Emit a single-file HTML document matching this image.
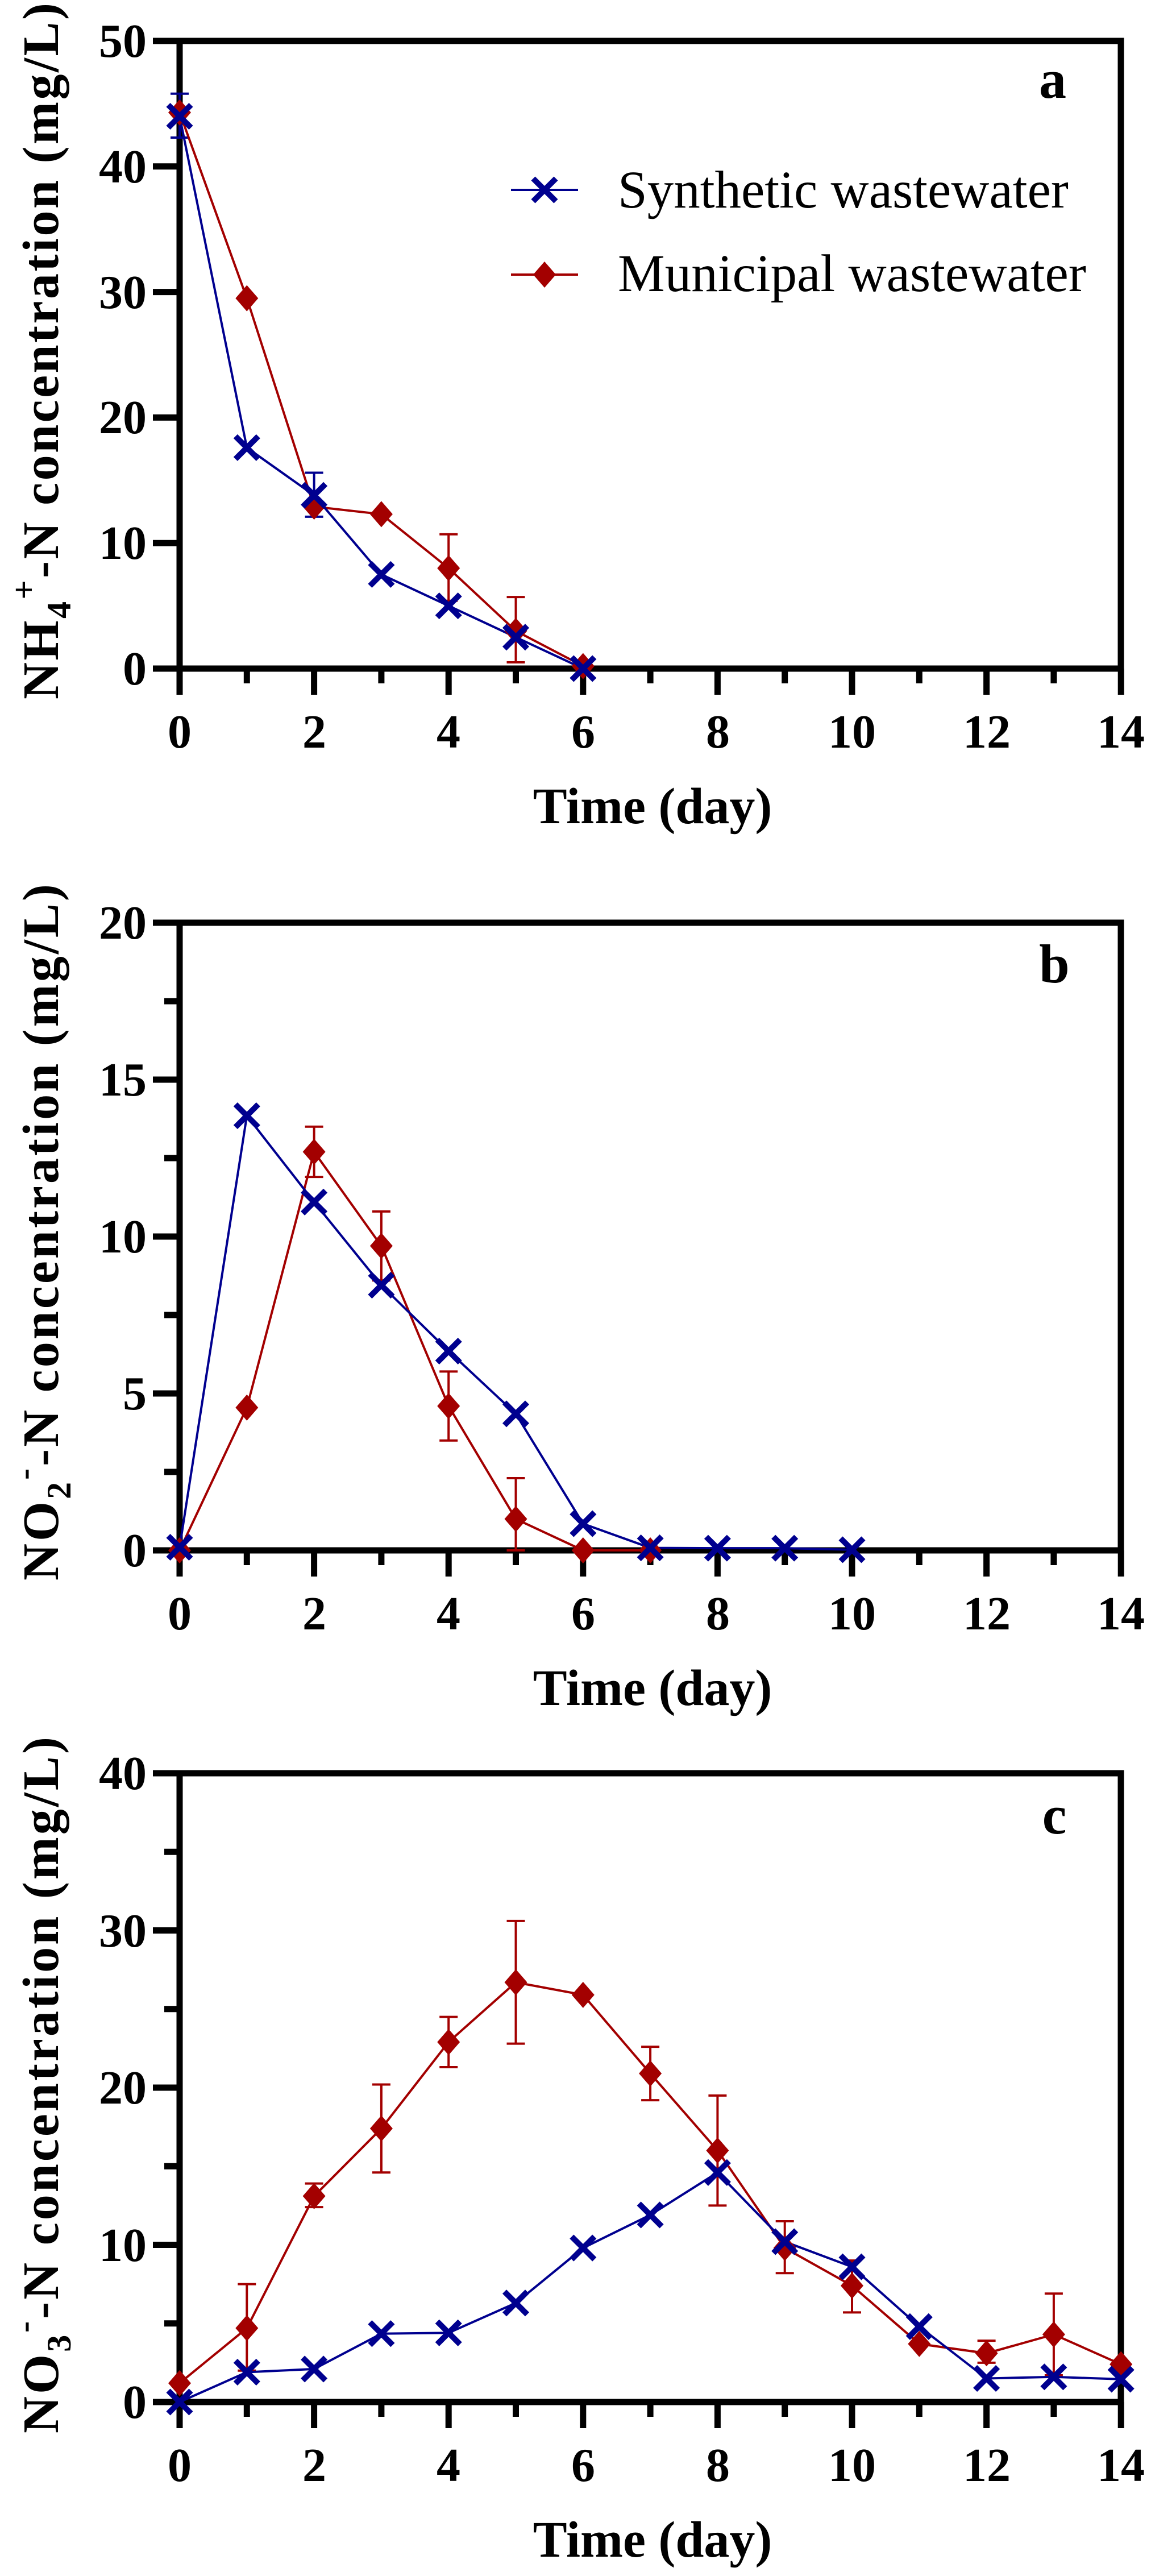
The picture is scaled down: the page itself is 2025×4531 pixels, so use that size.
<!DOCTYPE html>
<html><head><meta charset="utf-8"><style>
html,body{margin:0;padding:0;background:#fff}
svg{display:block}
svg text{font-family:"Liberation Serif","Times New Roman",serif}
</style></head><body>
<svg id="s" width="2025" height="4531" viewBox="0 0 2025 4531" xmlns="http://www.w3.org/2000/svg" font-family="Liberation Serif, Times New Roman, serif">
<g font-weight="bold" font-size="84" text-anchor="end">
<text x="258" y="100">50</text><text x="258" y="321">40</text><text x="258" y="542">30</text><text x="258" y="762">20</text><text x="258" y="983">10</text><text x="258" y="1204">0</text>
<text x="258" y="1651">20</text><text x="258" y="1927">15</text><text x="258" y="2203">10</text><text x="258" y="2479">5</text><text x="258" y="2755">0</text>
<text x="258" y="3147">40</text><text x="258" y="3424">30</text><text x="258" y="3700">20</text><text x="258" y="3977">10</text><text x="258" y="4253">0</text>
</g>
<g font-weight="bold" font-size="84" text-anchor="middle">
<text x="316" y="1315">0</text><text x="553" y="1315">2</text><text x="789" y="1315">4</text><text x="1026" y="1315">6</text><text x="1263" y="1315">8</text><text x="1499" y="1315">10</text><text x="1736" y="1315">12</text><text x="1972" y="1315">14</text>
<text x="316" y="2866">0</text><text x="553" y="2866">2</text><text x="789" y="2866">4</text><text x="1026" y="2866">6</text><text x="1263" y="2866">8</text><text x="1499" y="2866">10</text><text x="1736" y="2866">12</text><text x="1972" y="2866">14</text>
<text x="316" y="4364">0</text><text x="553" y="4364">2</text><text x="789" y="4364">4</text><text x="1026" y="4364">6</text><text x="1263" y="4364">8</text><text x="1499" y="4364">10</text><text x="1736" y="4364">12</text><text x="1972" y="4364">14</text>
<text x="1148" y="1448" font-size="90">Time (day)</text>
<text x="1148" y="2999" font-size="90">Time (day)</text>
<text x="1148" y="4497" font-size="90">Time (day)</text>
</g>
<g font-weight="bold" font-size="90">
<text transform="translate(102,1230) rotate(-90)" textLength="1225" lengthAdjust="spacing">NH<tspan font-size="60" dy="22">4</tspan><tspan font-size="60" dy="-62">+</tspan><tspan dy="40">-N concentration (mg/L)</tspan></text>
<text transform="translate(102,2780) rotate(-90)" textLength="1225" lengthAdjust="spacing">NO<tspan font-size="60" dy="22">2</tspan><tspan font-size="60" dy="-62">-</tspan><tspan dy="40">-N concentration (mg/L)</tspan></text>
<text transform="translate(102,4280) rotate(-90)" textLength="1225" lengthAdjust="spacing">NO<tspan font-size="60" dy="22">3</tspan><tspan font-size="60" dy="-62">-</tspan><tspan dy="40">-N concentration (mg/L)</tspan></text>
</g>
<g font-weight="bold" font-size="96" text-anchor="middle">
<text x="1852" y="172">a</text><text x="1855" y="1728">b</text><text x="1855" y="3225">c</text>
</g>
<g font-size="93">
<text x="1087" y="365">Synthetic wastewater</text>
<text x="1087" y="512">Municipal wastewater</text>
</g>
<g id="plots"></g>
</svg>
<script>
var NS="http://www.w3.org/2000/svg",P=document.getElementById('plots');
var BLUE="#00008f",RED="#a30000";
function el(t,a){var e=document.createElementNS(NS,t);for(var k in a)e.setAttribute(k,a[k]);P.appendChild(e);return e;}
function line(x1,y1,x2,y2,c,w){el('line',{x1:x1,y1:y1,x2:x2,y2:y2,stroke:c,'stroke-width':w});}
function cross(x,y){var r=20;line(x-r,y-r,x+r,y+r,BLUE,10);line(x-r,y+r,x+r,y-r,BLUE,10);}
function diamond(x,y){el('polygon',{points:(x)+','+(y-23)+' '+(x+20)+','+y+' '+(x)+','+(y+23)+' '+(x-20)+','+y,fill:RED});}
var X0=316,DX=118.3,L=316,R=1972;
function panel(top,bot,ymax,maj,minr,syn,mun,err){
 var sy=function(v){return bot-(v/ymax)*(bot-top);},sx=function(d){return X0+d*DX;};
 el('rect',{x:L,y:top,width:R-L,height:bot-top,fill:'none',stroke:'#000','stroke-width':11});
 for(var d=0;d<=14;d++){line(sx(d),bot,sx(d),bot+(d%2==0?46:26),'#000',11);}
 for(var v=0;v<=ymax+1e-9;v+=(minr||maj)){var isM=Math.abs(v/maj-Math.round(v/maj))<1e-6;line(L,sy(v),L-(isM?47:27),sy(v),'#000',11);}
 err.forEach(function(e){var c=e[3],x=sx(e[0]);line(x,sy(e[1]),x,sy(e[2]),c,4);line(x-16,sy(e[1]),x+16,sy(e[1]),c,4);line(x-16,sy(e[2]),x+16,sy(e[2]),c,4);});
 var pm=mun.map(function(p){return sx(p[0])+','+sy(p[1]);}).join(' ');
 el('polyline',{points:pm,fill:'none',stroke:RED,'stroke-width':4});
 var ps=syn.map(function(p){return sx(p[0])+','+sy(p[1]);}).join(' ');
 el('polyline',{points:ps,fill:'none',stroke:BLUE,'stroke-width':4});
 mun.forEach(function(p){diamond(sx(p[0]),sy(p[1]));});
 syn.forEach(function(p){cross(sx(p[0]),sy(p[1]));});
}
panel(72,1176,50,10,0,
 [[0,44],[1,17.6],[2,13.8],[3,7.5],[4,5],[5,2.5],[6,0]],
 [[0,44.3],[1,29.5],[2,12.9],[3,12.3],[4,8],[5,3],[6,0.2]],
 [[0,42.3,45.8,BLUE],[2,12.1,15.6,BLUE],[4,5.4,10.7,RED],[5,0.5,5.7,RED]]);
panel(1623,2727,20,5,2.5,
 [[0,0.1],[1,13.85],[2,11.1],[3,8.45],[4,6.35],[5,4.35],[6,0.85],[7,0.08],[8,0.07],[9,0.07],[10,0.02]],
 [[0,0],[1,4.55],[2,12.7],[3,9.7],[4,4.6],[5,1],[6,0],[7,0]],
 [[2,11.9,13.5,RED],[3,8.6,10.8,RED],[4,3.5,5.7,RED],[5,0,2.3,RED]]);
panel(3119,4225,40,10,5,
 [[0,0],[1,1.9],[2,2.1],[3,4.35],[4,4.4],[5,6.3],[6,9.8],[7,11.9],[8,14.6],[9,10.2],[10,8.6],[11,4.8],[12,1.5],[13,1.6],[14,1.45]],
 [[0,1.2],[1,4.7],[2,13.1],[3,17.4],[4,22.9],[5,26.7],[6,25.9],[7,20.9],[8,16],[9,9.8],[10,7.4],[11,3.7],[12,3.1],[13,4.3],[14,2.4]],
 [[1,2,7.5,RED],[2,12.4,13.9,RED],[3,14.6,20.2,RED],[4,21.3,24.5,RED],[5,22.8,30.6,RED],[7,19.2,22.6,RED],[8,12.5,19.5,RED],[9,8.2,11.5,RED],[10,5.7,9,RED],[12,2.5,3.9,RED],[13,1.7,6.9,RED]]);
line(899,334,1017,334,BLUE,4);cross(958,334);
line(899,483,1017,483,RED,4);diamond(958,483);
</script>
</body></html>
